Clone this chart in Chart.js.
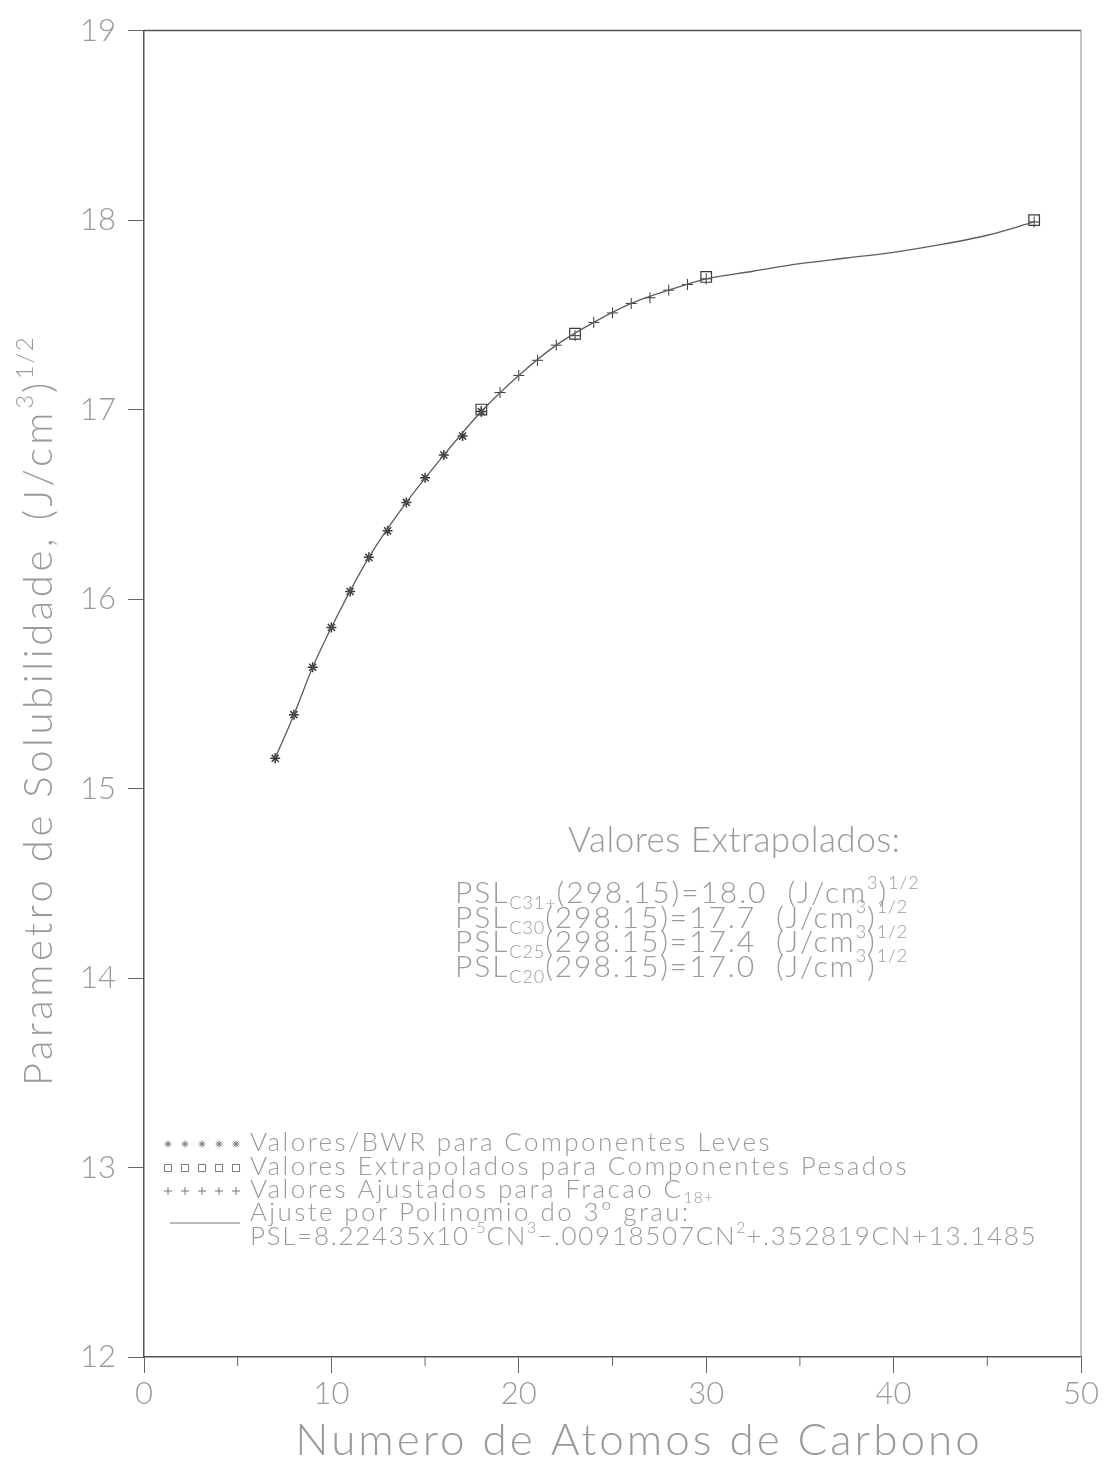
<!DOCTYPE html>
<html lang="pt">
<head>
<meta charset="UTF-8">
<title>Parametro de Solubilidade x Numero de Atomos de Carbono</title>
<script src="https://cdn.jsdelivr.net/npm/chart.js@4.4.0/dist/chart.umd.min.js"></script>
<style>
  html, body { margin: 0; padding: 0; background: #fff; }
  #wrap { width: 1104px; height: 1463px; }
</style>
</head>
<body>
<div id="wrap"><canvas id="psl" width="1104" height="1463"></canvas></div>
<script>
// Valores: numero de carbono (CN) x PSL (J/cm3)^1/2
const lightCN  = [7, 8, 9, 10, 11, 12, 13, 14, 15, 16, 17, 18];
const lightPSL = [15.16, 15.39, 15.64, 15.85, 16.04, 16.22, 16.36, 16.51, 16.64, 16.76, 16.86, 16.99];

const heavyCN  = [18, 23, 30, 47.5];
const heavyPSL = [17.0, 17.4, 17.7, 18.0];

const fittedCN  = [18, 19, 20, 21, 22, 23, 24, 25, 26, 27, 28, 29, 30, 47.5];
const fittedPSL = [16.99, 17.09, 17.18, 17.26, 17.34, 17.39, 17.46, 17.51, 17.56, 17.59, 17.63, 17.66, 17.69, 17.99];

const curveCN  = [7, 8, 9, 10, 12, 14, 16, 18, 20, 22, 24, 26, 28, 30, 32.5, 35, 37.5, 40, 42.5, 45, 47.5];
const curvePSL = [15.16, 15.39, 15.64, 15.85, 16.22, 16.51, 16.76, 16.99, 17.18, 17.34, 17.46, 17.56, 17.63, 17.69, 17.73, 17.77, 17.80, 17.83, 17.87, 17.92, 17.99];

const xMinorTicks = [5, 15, 25, 35, 45];

// textos
const xTitle = 'Numero de Atomos de Carbono';
const extrapTitle = 'Valores Extrapolados:';
const extrapLabels = ['C31+', 'C30', 'C25', 'C20'];
const extrapValues = ['18.0', '17.7', '17.4', '17.0'];
const legendLabels = [
  'Valores/BWR para Componentes Leves',
  'Valores Extrapolados para Componentes Pesados',
  'Valores Ajustados para Fracao C',
  'Ajuste por Polinomio do 3º grau:'
];

const FONT = 'Lato, "DejaVu Sans", sans-serif';
const TEXT = '#9a9a9a';
const AXIS = '#555';
const MARK = '#3a3a3a';

const pts = (xs, ys) => xs.map((x, i) => ({ x: x, y: ys[i] }));

// draw a sequence of text runs; sub/sup runs are smaller and shifted
function drawRuns(ctx, runs, x, y, size, spacing) {
  let cx = x;
  for (const r of runs) {
    const s = (r.sub || r.sup) ? size * 0.6 : size;
    ctx.font = '300 ' + s + 'px ' + FONT;
    if ('letterSpacing' in ctx) ctx.letterSpacing = (r.sub || r.sup ? spacing * 0.5 : spacing) + 'px';
    const dy = r.sub ? size * 0.2 : (r.sup ? -size * 0.48 : 0);
    ctx.fillText(r.t, cx, y + dy);
    cx += ctx.measureText(r.t).width;
  }
  if ('letterSpacing' in ctx) ctx.letterSpacing = '0px';
  return cx;
}

const decor = {
  id: 'decor',
  afterDraw(chart) {
    const ctx = chart.ctx;
    const a = chart.chartArea;
    const xs = chart.scales.x;
    ctx.save();

    // frame top and right
    ctx.strokeStyle = AXIS;
    ctx.lineWidth = 1.5;
    ctx.beginPath();
    ctx.moveTo(a.left, a.top);
    ctx.lineTo(a.right, a.top);
    ctx.stroke();
    ctx.strokeStyle = '#888';
    ctx.lineWidth = 1;
    ctx.beginPath();
    ctx.moveTo(a.right, a.top);
    ctx.lineTo(a.right, a.bottom);
    ctx.stroke();

    // minor ticks on x
    ctx.strokeStyle = '#666';
    ctx.lineWidth = 1;
    for (const v of xMinorTicks) {
      const px = xs.getPixelForValue(v);
      ctx.beginPath();
      ctx.moveTo(px, a.bottom);
      ctx.lineTo(px, a.bottom + 9);
      ctx.stroke();
    }

    ctx.fillStyle = TEXT;
    ctx.textBaseline = 'alphabetic';
    ctx.textAlign = 'left';

    // x axis title
    ctx.font = '300 44px ' + FONT;
    if ('letterSpacing' in ctx) ctx.letterSpacing = '3px';
    const tw = ctx.measureText(xTitle).width;
    ctx.fillText(xTitle, 639 - tw / 2, 1455);
    if ('letterSpacing' in ctx) ctx.letterSpacing = '0px';

    // y axis title
    ctx.save();
    ctx.translate(52, 1086);
    ctx.rotate(-Math.PI / 2);
    drawRuns(ctx, [
      { t: 'Parametro de Solubilidade, (J/cm' }, { t: '3', sup: true }, { t: ')' }, { t: '1/2', sup: true }
    ], 0, 0, 40, 3.6);
    ctx.restore();

    // extrapolated values block
    ctx.font = '300 35px ' + FONT;
    if ('letterSpacing' in ctx) ctx.letterSpacing = '0.5px';
    ctx.fillText(extrapTitle, 568, 852);
    if ('letterSpacing' in ctx) ctx.letterSpacing = '0px';
    extrapLabels.forEach((lab, i) => {
      drawRuns(ctx, [
        { t: 'PSL' }, { t: lab, sub: true }, { t: '(298.15)=' + extrapValues[i] + '  (J/cm' },
        { t: '3', sup: true }, { t: ')' }, { t: '1/2', sup: true }
      ], 455, 903 + i * 24.5, 30, 1.9);
    });

    // legend
    const lx = 250, ly = [1151, 1175, 1198, 1221, 1245];
    const styles = ['star', 'rect', 'cross'];
    const radii = [3.5, 5, 4];
    ctx.strokeStyle = '#777';
    ctx.fillStyle = '#fff';
    ctx.lineWidth = 1;
    styles.forEach((st, i) => {
      for (let k = 0; k < 5; k++) {
        Chart.helpers.drawPoint(ctx, { pointStyle: st, radius: radii[i], rotation: 0, borderWidth: 1 },
          168 + k * 17, ly[i] - 7);
      }
    });
    ctx.beginPath();
    ctx.moveTo(170, ly[3] + 2);
    ctx.lineTo(240, ly[3] + 2);
    ctx.stroke();

    ctx.fillStyle = TEXT;
    drawRuns(ctx, [{ t: legendLabels[0] }], lx, ly[0], 26, 2.4);
    drawRuns(ctx, [{ t: legendLabels[1] }], lx, ly[1], 26, 2.4);
    drawRuns(ctx, [{ t: legendLabels[2] }, { t: '18+', sub: true }], lx, ly[2], 26, 2.4);
    drawRuns(ctx, [{ t: legendLabels[3] }], lx, ly[3], 26, 2.4);
    drawRuns(ctx, [
      { t: 'PSL=8.22435x10' }, { t: '-5', sup: true }, { t: 'CN' }, { t: '3', sup: true },
      { t: '\u2212.00918507CN' }, { t: '2', sup: true }, { t: '+.352819CN+13.1485' }
    ], lx, ly[4], 26, 1.7);

    ctx.restore();
  }
};

new Chart(document.getElementById('psl'), {
  type: 'scatter',
  data: {
    datasets: [
      {
        label: 'Ajuste por Polinomio do 3º grau',
        data: pts(curveCN, curvePSL),
        showLine: true,
        borderColor: '#5c5c5c',
        borderWidth: 1.3,
        pointRadius: 0,
        cubicInterpolationMode: 'monotone',
        fill: false
      },
      {
        label: 'Valores/BWR para Componentes Leves',
        data: pts(lightCN, lightPSL),
        pointStyle: 'star',
        pointRadius: 5,
        borderColor: MARK,
        borderWidth: 1.5
      },
      {
        label: 'Valores Ajustados para Fracao C18+',
        data: pts(fittedCN, fittedPSL),
        pointStyle: 'cross',
        pointRadius: 5.5,
        borderColor: MARK,
        borderWidth: 1
      },
      {
        label: 'Valores Extrapolados para Componentes Pesados',
        data: pts(heavyCN, heavyPSL),
        pointStyle: 'rect',
        pointRadius: 7.5,
        backgroundColor: 'rgba(0,0,0,0)',
        borderColor: MARK,
        borderWidth: 1.2
      }
    ]
  },
  options: {
    responsive: false,
    animation: false,
    layout: { padding: { top: 27, right: 23, left: 0, bottom: 0 } },
    plugins: { legend: { display: false }, tooltip: { enabled: false } },
    scales: {
      x: {
        type: 'linear',
        min: 0, max: 50,
        ticks: { stepSize: 10, color: TEXT, font: { family: FONT, size: 31, weight: 300 }, padding: 2 },
        grid: { drawOnChartArea: false, tickLength: 16, color: '#666' },
        border: { color: AXIS, width: 1.5 },
        afterFit(s) { s.height = 106; }
      },
      y: {
        type: 'linear',
        min: 12, max: 19,
        ticks: { stepSize: 1, color: TEXT, font: { family: FONT, size: 31, weight: 300 }, padding: 12 },
        grid: { drawOnChartArea: false, tickLength: 16, color: '#666' },
        border: { color: AXIS, width: 1.5 },
        afterFit(s) { s.width = 144; }
      }
    }
  },
  plugins: [decor]
});
</script>
</body>
</html>
